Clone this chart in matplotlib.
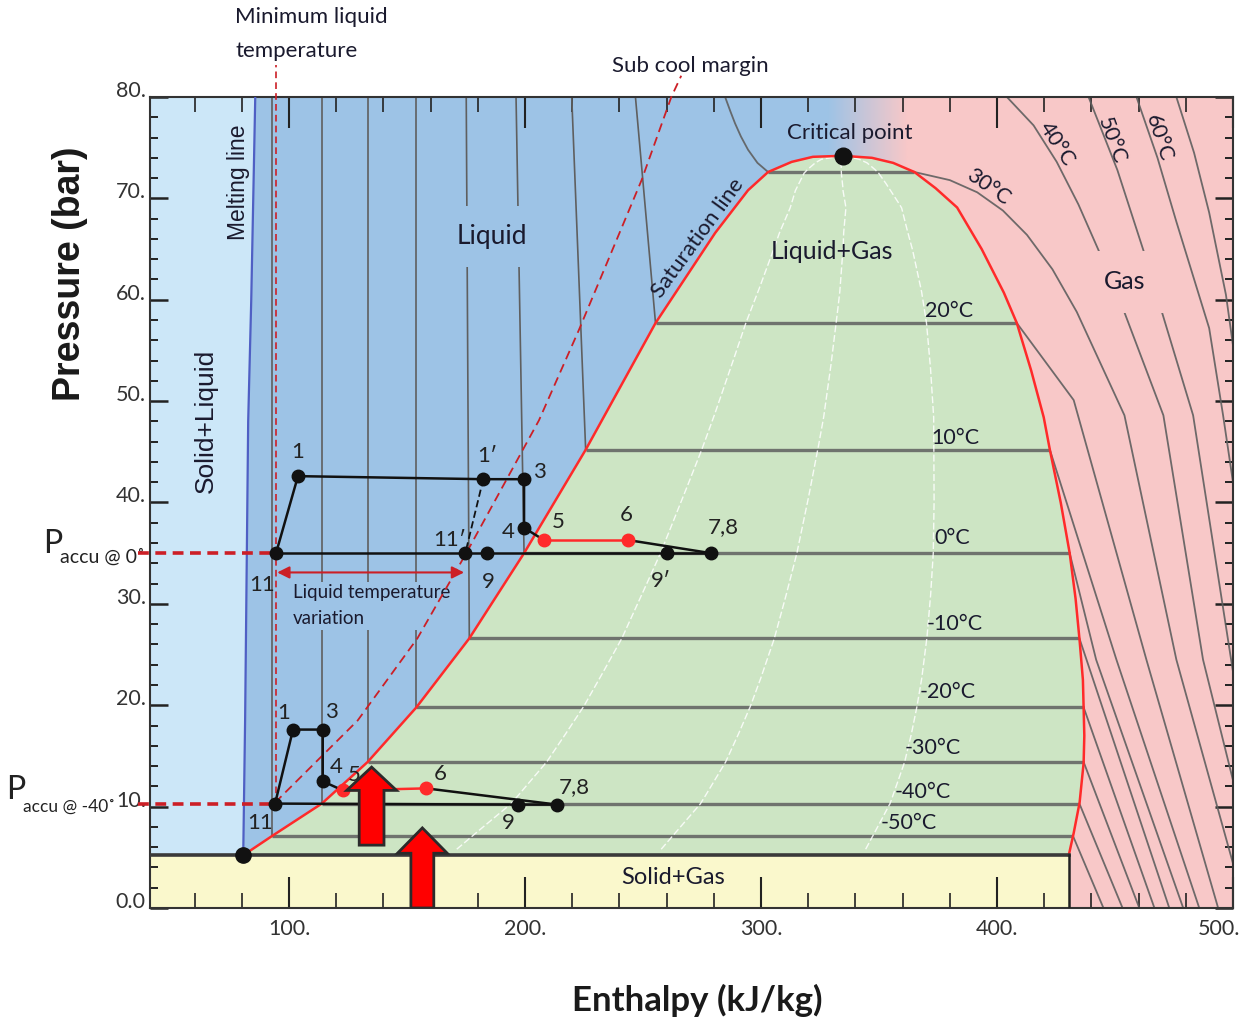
import numpy as np
import matplotlib.pyplot as plt
from matplotlib import rcParams
from matplotlib.patches import Polygon, FancyArrow
from matplotlib.ticker import MultipleLocator, FuncFormatter
from matplotlib.transforms import ScaledTranslation

rcParams['font.family'] = ['Lato', 'DejaVu Sans']

# ---- CO2 saturation dome (enthalpy kJ/kg, pressure bar) ----
liq_h = [80.6, 92.8, 113.9, 133.3, 154.0, 176.4, 199.6, 225.7, 255.3, 280.6, 294.5, 303.0,
         313.0, 322.0, 334.6]
liq_p = [5.2, 7.1, 10.3, 14.4, 19.8, 26.6, 35.0, 45.2, 57.7, 66.6, 70.8, 72.6,
         73.6, 74.1, 74.2]
vap_h = [334.6, 347.0, 356.0, 365.0, 374.0, 383.1, 393.5, 402.9, 408.4, 414.5, 419.8, 422.4,
         427.0, 430.8, 433.3, 435.0, 436.4, 436.7, 437.0, 436.7, 435.0, 432.5, 430.4]
vap_p = [74.2, 74.0, 73.5, 72.6, 71.0, 69.1, 65.0, 60.7, 57.7, 53.0, 48.4, 45.2,
         40.0, 35.0, 30.5, 26.4, 22.5, 19.8, 17.0, 14.3, 10.4, 7.4, 5.2]
triple_p = 5.2

melt_h = [80.6, 81.4, 82.7, 84.0, 85.7]
melt_p = [5.2, 18.5, 48.0, 60.0, 80.0]

# isotherms: saturation pressure and liquid-side enthalpy at the 80 bar top
sat_T = [-50, -40, -30, -20, -10, 0, 10, 20, 30]
sat_p = [7.1, 10.3, 14.4, 19.8, 26.6, 35.0, 45.2, 57.7, 72.6]
liq_top_h = [92.8, 113.9, 133.3, 154.0, 175.1, 196.2, 219.8, 246.8]
iso30_liq_h = [284.8, 287.0, 289.0, 291.5, 294.5, 298.5, 303.0]
iso30_liq_p = [80.0, 78.6, 77.4, 76.1, 74.8, 73.5, 72.6]

# superheated gas branches, starting from the saturated vapour point
gas_h = [[445.1], [453.2], [460.3], [466.7], [473.0], [442.0, 478.9], [450.6, 485.7],
         [432.5, 463.3, 493.7], [380.0, 391.6, 402.5, 412.7, 423.5, 433.8, 454.0, 476.0, 500.0]]
gas_p = [[0.0], [0.0], [0.0], [0.0], [0.0], [24.5, 0.0], [24.5, 0.0],
         [50.1, 24.5, 0.0], [71.8, 70.6, 68.8, 66.4, 63.0, 58.8, 48.6, 24.5, 4.4]]

# supercritical isotherms 40..70 C
hot_T = [40, 50, 60, 70]
hot_h = [[404.2, 415.5, 425.3, 434.5, 443.0, 453.6, 470.5, 487.3, 500.0],
         [438.8, 451.0, 462.0, 469.6, 483.1, 500.0],
         [459.1, 468.0, 476.0, 489.9, 495.8, 500.0],
         [476.0, 483.5, 489.9, 497.0, 500.0]]
hot_p = [[80.0, 77.2, 73.6, 69.4, 64.9, 59.0, 48.6, 24.5, 12.6],
         [80.0, 72.8, 64.9, 59.0, 48.6, 23.3],
         [80.0, 74.0, 67.7, 57.2, 48.6, 42.0],
         [80.0, 74.5, 68.6, 60.5, 55.5]]

quality = [0.25, 0.5, 0.75]

# sub cool margin
sub_h = [94.1, 129.1, 154.4, 175.1, 205.9, 222.8, 249.4, 262.0, 266.2]
sub_p = [10.4, 18.5, 26.6, 35.0, 48.1, 57.0, 71.8, 80.0, 82.1]
min_liq_h = 94.5

# cycle at 0 C accumulator
c0_names = ['1', '1′', '3', '4', '5', '6', '7,8', '9′', '9', '11′', '11']
c0_h = [103.8, 182.3, 199.6, 199.6, 208.0, 243.5, 278.9, 260.3, 184.0, 174.7, 94.5]
c0_p = [42.6, 42.3, 42.3, 37.5, 36.3, 36.3, 35.0, 35.0, 35.0, 35.0, 35.0]
c0_lab_h = [103.8, 184.0, 206.3, 192.8, 213.9, 243.0, 284.0, 257.4, 184.4, 167.9, 88.6]
c0_lab_p = [45.0, 44.6, 43.0, 37.1, 38.1, 38.8, 37.6, 32.3, 32.2, 36.3, 31.9]

# cycle at -40 C accumulator
c40_names = ['1', '3', '4', '5', '6', '7,8', '9', '11']
c40_h = [101.7, 114.3, 114.3, 122.8, 158.2, 213.5, 197.0, 94.1]
c40_p = [17.6, 17.6, 12.5, 11.6, 11.8, 10.2, 10.2, 10.3]
c40_lab_h = [97.9, 118.1, 119.8, 127.8, 164.1, 221.1, 192.8, 87.8]
c40_lab_p = [19.2, 19.3, 13.9, 13.1, 13.2, 11.9, 8.4, 8.4]

crit_h, crit_p = 334.6, 74.2

XMIN, XMAX = 41.1, 500.0

c_light = '#cce7f8'
c_blue = '#9dc3e6'
c_green = '#cde5c4'
c_pink = '#f8c8c8'
c_yellow = '#faf8cc'
c_red = '#ff2a2a'
c_dred = '#cc1f26'
c_iso = '#5f5f5f'
c_txt = '#1a1a2e'

fig = plt.figure(figsize=(12.49, 10.23), dpi=100)
ax = fig.add_axes([150 / 1249, 1 - 908 / 1023, 1083 / 1249, 811 / 1023])
ax.set_facecolor(c_pink)

# liquid region
blue_pts = list(zip(melt_h, melt_p)) + [(330.0, 80.0)] + list(zip(liq_h[::-1], liq_p[::-1]))
ax.add_patch(Polygon(blue_pts, closed=True, fc=c_blue, ec='none', zorder=0.5))

# blue -> pink fade above the critical point
b = np.array([157, 195, 230]) / 255
pk = np.array([248, 200, 200]) / 255
t = np.linspace(0, 1, 64)[None, :, None]
grad = b * (1 - t) + pk * t
ax.imshow(grad, extent=(328, 362, 70, 80), aspect='auto', zorder=0.6, interpolation='bilinear')

# solid + liquid
sl_pts = [(XMIN, triple_p)] + list(zip(melt_h, melt_p)) + [(XMIN, 80.0)]
ax.add_patch(Polygon(sl_pts, closed=True, fc=c_light, ec='none', zorder=0.7))

# two-phase dome
dome_pts = list(zip(liq_h, liq_p)) + list(zip(vap_h[1:], vap_p[1:]))
ax.add_patch(Polygon(dome_pts, closed=True, fc=c_green, ec='none', zorder=0.8))

# solid + gas
ax.add_patch(Polygon([(XMIN, 0), (vap_h[-1], 0), (vap_h[-1], triple_p), (XMIN, triple_p)],
                     closed=True, fc=c_yellow, ec='none', zorder=0.9))

vap_p_inc = vap_p[::-1]
vap_h_inc = vap_h[::-1]

# isotherms
for i, T in enumerate(sat_T):
    p = sat_p[i]
    hl = np.interp(p, liq_p, liq_h)
    hv = np.interp(p, vap_p_inc, vap_h_inc)
    ax.plot([hl, hv], [p, p], color=c_iso, lw=2.4, alpha=0.85, zorder=2, solid_capstyle='butt')
    if i < len(liq_top_h):
        ax.plot([hl, liq_top_h[i]], [p, 80.0], color=c_iso, lw=1.2, zorder=2)
    ax.plot([hv] + gas_h[i], [p] + gas_p[i], color=c_iso, lw=1.3, alpha=0.9, zorder=2)
ax.plot(iso30_liq_h, iso30_liq_p, color=c_iso, lw=1.3, alpha=0.9, zorder=2)
for i, T in enumerate(hot_T):
    ax.plot(hot_h[i], hot_p[i], color=c_iso, lw=1.3, alpha=0.9, zorder=2)

# constant quality lines
pq = np.linspace(5.8, crit_p, 200)
hl_q = np.interp(pq, liq_p, liq_h)
hv_q = np.interp(pq, vap_p_inc, vap_h_inc)
for q in quality:
    ax.plot(hl_q + q * (hv_q - hl_q), pq, color='white', lw=1.0, ls=(0, (5, 2)),
            alpha=0.85, zorder=2.1)

# saturation and melting lines
ax.plot(liq_h + vap_h[1:], liq_p + vap_p[1:], color=c_red, lw=1.8, zorder=3)
ax.plot(melt_h, melt_p, color='#4f5fc4', lw=1.6, zorder=3)
ax.plot([XMIN, vap_h[-1]], [triple_p, triple_p], color='#3a3a3a', lw=2.6, zorder=3)
ax.plot([vap_h[-1], vap_h[-1]], [0, triple_p], color='#222', lw=1.8, zorder=3)
ax.plot([liq_h[0]], [liq_p[0]], 'o', color='#111', ms=11, zorder=6)
ax.plot([crit_h], [crit_p], 'o', color='#111', ms=12, zorder=6)

# sub cool margin and minimum liquid temperature
ax.plot(sub_h, sub_p, color=c_dred, lw=1.3, ls=(0, (5, 3)), zorder=5, clip_on=False)
ax.plot([min_liq_h, min_liq_h], [c40_p[-1], 83.2], color=c_dred, lw=1.2, ls=(0, (4, 2.5)),
        zorder=5, clip_on=False)

# accumulator pressure markers
for p in [c0_p[-1], c40_p[-1]]:
    ax.plot([35.9, min_liq_h], [p, p], color=c_dred, lw=2.6, ls=(0, (3, 1.8)), zorder=5,
            clip_on=False)

ax.annotate('', xy=(min_liq_h + 0.5, 33.1), xytext=(c0_h[9] - 0.5, 33.1),
            arrowprops=dict(arrowstyle='<|-|>', color=c_dred, lw=1.5,
                            mutation_scale=18, shrinkA=0, shrinkB=0), zorder=5)


def draw_cycle(h, p, seq_black, red_seg, dashed=None):
    for seg in seq_black:
        ax.plot([h[k] for k in seg], [p[k] for k in seg], color='#111', lw=1.8, zorder=5)
    ax.plot([h[k] for k in red_seg], [p[k] for k in red_seg], color=c_red, lw=1.8, zorder=5)
    if dashed:
        ax.plot([h[k] for k in dashed], [p[k] for k in dashed], color='#111', lw=1.3,
                ls=(0, (4, 2)), zorder=5)
    for k in range(len(h)):
        col = c_red if k in red_seg else '#111'
        ax.plot(h[k], p[k], 'o', color=col, ms=9, zorder=6)


draw_cycle(c0_h, c0_p, [[10, 0], [0, 1, 2, 3, 4], [5, 6], [6, 7, 8, 9, 10]], [4, 5], dashed=[1, 9])
draw_cycle(c40_h, c40_p, [[7, 0, 1, 2, 3], [4, 5], [5, 6, 7]], [3, 4])

for name, x, y in zip(c0_names, c0_lab_h, c0_lab_p):
    ax.text(x, y, name, fontsize=16, ha='center', va='center', color='#222', zorder=7)
for name, x, y in zip(c40_names, c40_lab_h, c40_lab_p):
    ax.text(x, y, name, fontsize=16, ha='center', va='center', color='#222', zorder=7)

# region and line labels
txt = dict(color=c_txt, ha='center', va='center', zorder=7)
ax.text(186.1, 66.2, 'Liquid', fontsize=19, zorder=4, color=c_txt, ha='center', va='center',
        bbox=dict(fc=c_blue, ec='none', pad=13))
ax.text(330.0, 64.8, 'Liquid+Gas', fontsize=18, **txt)
ax.text(454.0, 61.8, 'Gas', fontsize=18, zorder=4, color=c_txt, ha='center', va='center',
        bbox=dict(fc=c_pink, ec='none', pad=14))
ax.text(262.9, 3.0, 'Solid+Gas', fontsize=17, **txt)
ax.text(337.6, 76.4, 'Critical point', fontsize=16, **txt)
ax.text(64.6, 48.1, 'Solid+Liquid', fontsize=19, rotation=90, family='Liberation Sans', **txt)
ax.text(78.5, 71.6, 'Melting line', fontsize=16.5, rotation=90, family='Liberation Sans', **txt)
ax.text(273.4, 66.1, 'Saturation line', fontsize=16, rotation=54, **txt)
ax.text(101.7, 29.8, 'Liquid temperature\nvariation', fontsize=13.5, color=c_txt,
        ha='left', va='center', linespacing=1.65, zorder=4,
        bbox=dict(fc=c_blue, ec='none', pad=2))

for s, x, y in [('20°C', 379.7, 58.9), ('10°C', 382.3, 46.4), ('0°C', 381.0, 36.5),
                ('-10°C', 381.9, 28.0), ('-20°C', 378.9, 21.3), ('-30°C', 372.6, 15.8),
                ('-40°C', 368.4, 11.4), ('-50°C', 362.4, 8.4)]:
    ax.text(x, y, s, fontsize=15.5, **txt)
for s, x, y, r in [('30°C', 396.2, 71.1, -35), ('40°C', 425.3, 75.4, -57),
                   ('50°C', 448.5, 75.7, -70), ('60°C', 468.8, 76.0, -72)]:
    ax.text(x, y, s, fontsize=15.5, rotation=r, **txt)

ax.text(77.2, 87.9, 'Minimum liquid', fontsize=16, color=c_txt, ha='left', va='center',
        clip_on=False)
ax.text(77.2, 84.5, 'temperature', fontsize=16, color=c_txt, ha='left', va='center',
        clip_on=False)
ax.text(270.0, 83.1, 'Sub cool margin', fontsize=16, color=c_txt, ha='center', va='center',
        clip_on=False)

ax.text(0.0, 35.9, 'P', fontsize=23, color='#222', ha='center', va='center', clip_on=False)
ax.text(2.8, 34.6, 'accu @ 0˚', fontsize=14, color='#222', ha='left', va='center', clip_on=False)
ax.text(-15.8, 11.6, 'P', fontsize=23, color='#222', ha='center', va='center', clip_on=False)
ax.text(-12.8, 10.0, 'accu @ -40˚', fontsize=12.5, color='#222', ha='left', va='center',
        clip_on=False)

# big block arrows
ax.add_patch(FancyArrow(135.0, 6.2, 0, 7.7, width=10.5, head_width=21.1, head_length=2.3,
                        length_includes_head=True, fc='#ff0000', ec='#2b2b2b', lw=2, zorder=8))
ax.add_patch(FancyArrow(156.5, 0.0, 0, 7.9, width=9.7, head_width=21.1, head_length=2.5,
                        length_includes_head=True, fc='#ff0000', ec='#2b2b2b', lw=2, zorder=8))

# axes
ax.set_xlim(XMIN, XMAX)
ax.set_ylim(0, 80)
ax.xaxis.set_major_locator(MultipleLocator(100))
ax.xaxis.set_minor_locator(MultipleLocator(20))
ax.yaxis.set_major_locator(MultipleLocator(10))
ax.yaxis.set_minor_locator(MultipleLocator(2))
ax.xaxis.set_major_formatter(FuncFormatter(lambda v, pos: f'{v:.0f}.'))
ax.yaxis.set_major_formatter(FuncFormatter(lambda v, pos: '0.0' if v == 0 else f'{v:.0f}.'))
ax.tick_params(which='both', direction='in', top=True, right=True, colors='#222',
               labelsize=15.5, labelcolor='#333')
ax.tick_params(axis='x', which='major', length=22, width=1.5, pad=8)
ax.tick_params(axis='x', which='minor', length=11, width=1.2)
ax.tick_params(axis='y', which='major', length=13, width=1.8, pad=3)
ax.tick_params(axis='y', which='minor', length=6, width=1.4)
for tk in ax.yaxis.get_major_ticks():
    tk.label1.set_va('baseline')
for sp in ax.spines.values():
    sp.set_color('#333')
    sp.set_linewidth(1.5)

# keep the last enthalpy label inside the canvas
fig.canvas.draw()
last = [tk for tk in ax.xaxis.get_major_ticks() if abs(tk.get_loc() - XMAX) < 1e-6]
for tk in last:
    tk.label1.set_transform(tk.label1.get_transform() +
                            ScaledTranslation(-10 / 72, 0, fig.dpi_scale_trans))

fig.text(697 / 1249, 1 - 1000 / 1023, 'Enthalpy (kJ/kg)', fontsize=25, fontweight='bold',
         ha='center', va='center', color='#1a1a1a')
fig.text(70 / 1249, 1 - 274 / 1023, 'Pressure (bar)', fontsize=27, fontweight='bold',
         family='Liberation Sans', rotation=90, ha='center', va='center', color='#1a1a1a')

fig.savefig('out.png', dpi=100)
